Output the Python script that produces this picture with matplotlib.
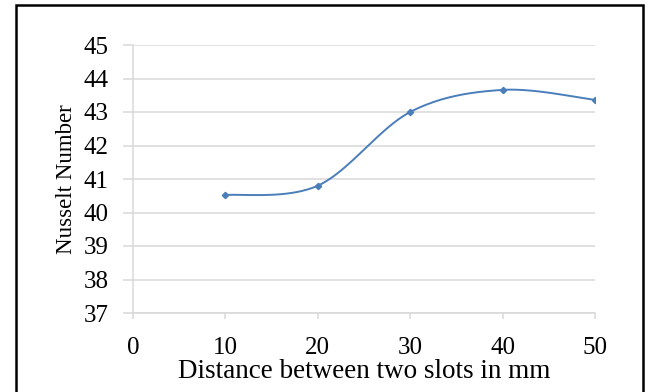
import numpy as np
import matplotlib.pyplot as plt
from matplotlib.patches import Rectangle

# slot spacing (mm) vs measured Nusselt number
distance = [10, 20, 30, 40, 50]
nusselt = [40.52, 40.80, 43.00, 43.66, 43.36]
x_ticks = [0, 10, 20, 30, 40, 50]
y_ticks = [37, 38, 39, 40, 41, 42, 43, 44, 45]


def smooth_curve(xs, ys, n=40):
    """Cubic Bezier smoothing through the points (spreadsheet-style smoothed line)."""
    p = np.column_stack([xs, ys]).astype(float)
    pts = np.vstack([p[0], p, p[-1]])
    t = np.linspace(0, 1, n)[:, None]
    out = []
    for i in range(1, len(pts) - 2):
        p0, p1, p2, p3 = pts[i - 1], pts[i], pts[i + 1], pts[i + 2]
        c1 = p1 + (p2 - p0) / 6.0
        c2 = p2 - (p3 - p1) / 6.0
        seg = ((1 - t) ** 3) * p1 + 3 * ((1 - t) ** 2) * t * c1 \
            + 3 * (1 - t) * t ** 2 * c2 + t ** 3 * p2
        out.append(seg if i == 1 else seg[1:])
    seg = np.vstack(out)
    return seg[:, 0], seg[:, 1]


plt.rcParams['font.family'] = ['Liberation Serif', 'DejaVu Serif']

fig = plt.figure(figsize=(6.51, 3.92), dpi=100)
ax = fig.add_axes([133 / 651, 1 - 313 / 392, 462 / 651, 268 / 392])

grid_col = '#d9d9d9'
line_col = '#4a7ebb'

sx, sy = smooth_curve(distance, nusselt)
ax.plot(sx, sy, color=line_col, lw=1.4, zorder=3)
ax.plot(distance, nusselt, linestyle='none', marker='D', ms=3.2,
        color=line_col, zorder=4)

ax.set_xlim(0, 50)
ax.set_ylim(37, 45)
ax.set_xticks(x_ticks)
ax.set_yticks(y_ticks)
ax.yaxis.grid(True, color=grid_col, lw=1.1)
ax.set_axisbelow(True)

for side in ['top', 'right']:
    ax.spines[side].set_visible(False)
for side in ['left', 'bottom']:
    ax.spines[side].set_color(grid_col)
    ax.spines[side].set_linewidth(1.1)

ax.tick_params(axis='y', length=7.5, width=1.1, color=grid_col, pad=10,
               labelsize=18)
ax.tick_params(axis='x', length=4, width=1.1, color=grid_col, pad=13,
               labelsize=18)

ax.set_xlabel('Distance between two slots in mm', fontsize=19.5, labelpad=0)
ax.set_ylabel('Nusselt Number', fontsize=16.5, labelpad=5)

# outer frame round the whole chart
fig.patches.append(Rectangle((16 / 651, -5 / 392), 627 / 651, 392 / 392,
                             transform=fig.transFigure, fill=False,
                             edgecolor='black', lw=1.8))

fig.savefig('out.png', dpi=100)
